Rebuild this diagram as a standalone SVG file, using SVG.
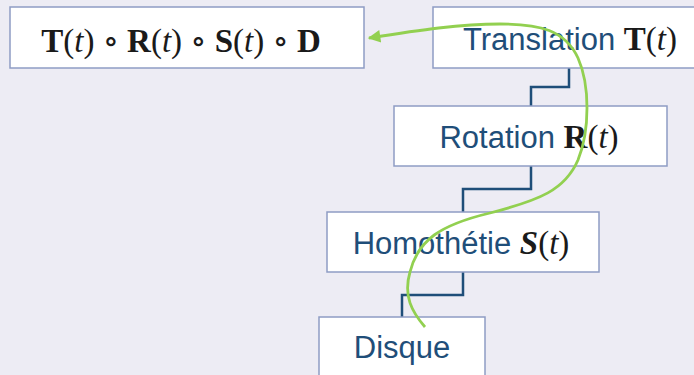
<svg xmlns="http://www.w3.org/2000/svg" width="694" height="375" viewBox="0 0 694 375">
  <defs>
    <style>
      .box { fill: #ffffff; stroke: #8e9cc4; stroke-width: 1.5; }
      .lbl { font-family: "Liberation Sans", Arial, sans-serif; font-size: 31px; fill: #1f4e79; }
      .m { font-family: "Liberation Serif", "DejaVu Serif", serif; fill: #1a1a1a; font-size: 33px; }
      .b { font-weight: bold; }
      .i { font-style: italic; }
      .link { fill: none; stroke: #1f4e79; stroke-width: 2.5; }
      .flow { fill: none; stroke: #92d050; stroke-width: 2.8; }
    </style>
    <marker id="arrowGreen" viewBox="0 0 10 10" refX="9" refY="5" markerWidth="5" markerHeight="4.5" orient="auto" markerUnits="strokeWidth">
      <path d="M0,0 L10,5 L0,10 z" fill="#92d050"/>
    </marker>
  </defs>

  <rect width="694" height="375" fill="#edecf4"/>

  <!-- connectors between stages -->
  <g id="connectors">
    <path class="link" d="M569,68 V87 H531 V106"/>
    <path class="link" d="M531,166 V189 H463 V212"/>
    <path class="link" d="M463,272 V295 H402 V317"/>
  </g>

  <g id="composite">
    <rect class="box" x="10" y="7" width="354" height="61"/>
    <text class="m" x="181" y="52" text-anchor="middle"><tspan class="b">T</tspan>(<tspan class="i">t</tspan>) ∘ <tspan class="b">R</tspan>(<tspan class="i">t</tspan>) ∘ <tspan class="b">S</tspan>(<tspan class="i">t</tspan>) ∘ <tspan class="b">D</tspan></text>
  </g>

  <g id="translation">
    <rect class="box" x="433" y="7" width="262" height="61"/>
    <text class="lbl" x="570" y="50" text-anchor="middle">Translation <tspan class="m b">T</tspan><tspan class="m">(</tspan><tspan class="m i">t</tspan><tspan class="m">)</tspan></text>
  </g>

  <g id="rotation">
    <rect class="box" x="394" y="106" width="273" height="60"/>
    <text class="lbl" x="529" y="148" text-anchor="middle">Rotation <tspan class="m b">R</tspan><tspan class="m">(</tspan><tspan class="m i">t</tspan><tspan class="m">)</tspan></text>
  </g>

  <g id="homothetie">
    <rect class="box" x="327" y="212" width="272" height="60"/>
    <text class="lbl" x="461" y="254" text-anchor="middle">Homothétie <tspan class="m b i">S</tspan><tspan class="m">(</tspan><tspan class="m i">t</tspan><tspan class="m">)</tspan></text>
  </g>

  <g id="disque">
    <rect class="box" x="319" y="317" width="166" height="70"/>
    <text class="lbl" x="402" y="358" text-anchor="middle">Disque</text>
  </g>

  <!-- flow of the transformations back to the composite -->
  <g id="flow">
    <path class="flow" marker-end="url(#arrowGreen)" d="M425,327 C412,312 403,296 410,272 C418,240 440,225 490,213 C540,200 565,190 578,160 C590,130 590,85 578,58 C565,30 540,24 500,24 C460,24 420,30 369,38"/>
  </g>
</svg>
